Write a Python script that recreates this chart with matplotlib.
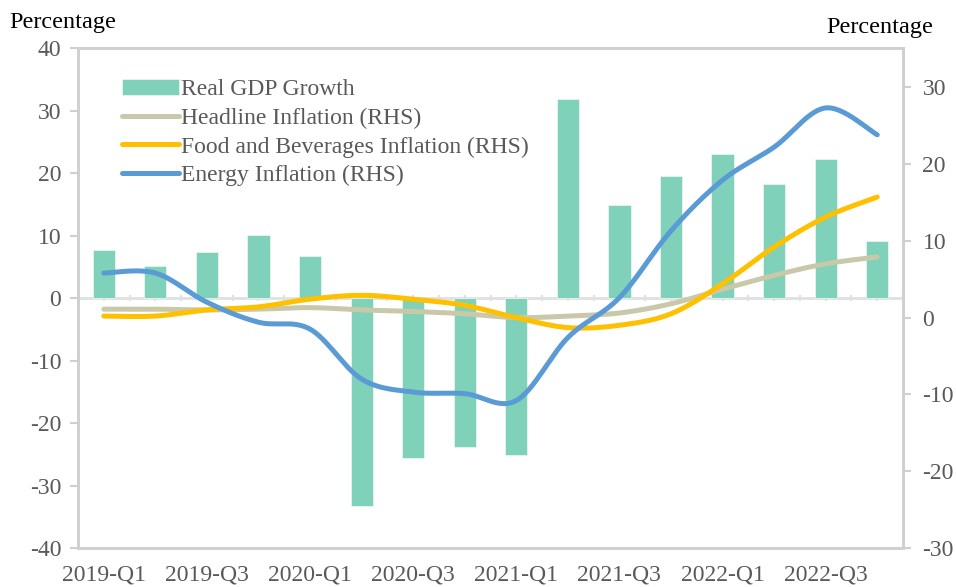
import numpy as np
import matplotlib.pyplot as plt

plt.rcParams['font.family'] = ['Liberation Serif', 'DejaVu Serif']
plt.rcParams['axes.unicode_minus'] = False

quarters = ['2019-Q1', '2019-Q2', '2019-Q3', '2019-Q4',
            '2020-Q1', '2020-Q2', '2020-Q3', '2020-Q4',
            '2021-Q1', '2021-Q2', '2021-Q3', '2021-Q4',
            '2022-Q1', '2022-Q2', '2022-Q3', '2022-Q4']
gdp = [7.7, 5.1, 7.4, 10.1, 6.7, -33.3, -25.6, -23.8,
       -25.1, 31.8, 14.9, 19.5, 23.0, 18.2, 22.2, 9.1]
headline = [1.1, 1.1, 1.0, 1.1, 1.3, 1.0, 0.8, 0.5,
            0.0, 0.2, 0.6, 1.8, 3.7, 5.5, 7.0, 7.9]
food = [0.2, 0.2, 1.0, 1.4, 2.4, 2.9, 2.4, 1.6,
        0.0, -1.3, -1.0, 0.5, 4.4, 9.2, 13.1, 15.7]
energy = [5.8, 5.8, 2.0, -0.6, -1.5, -8.0, -9.7, -9.9,
          -10.8, -2.6, 2.6, 11.3, 17.9, 22.2, 27.3, 23.8]


def smooth(x, y, n=30):
    # Excel-like smoothed line: cubic Bezier with Catmull-Rom control points
    x = np.asarray(x, float)
    y = np.asarray(y, float)
    px = np.concatenate([[x[0]], x, [x[-1]]])
    py = np.concatenate([[y[0]], y, [y[-1]]])
    xs, ys = [], []
    t = np.linspace(0, 1, n)
    for i in range(1, len(px) - 2):
        p0 = np.array([px[i], py[i]])
        p3 = np.array([px[i + 1], py[i + 1]])
        c1 = p0 + (np.array([px[i + 1], py[i + 1]]) - np.array([px[i - 1], py[i - 1]])) / 6
        c2 = p3 - (np.array([px[i + 2], py[i + 2]]) - np.array([px[i], py[i]])) / 6
        b = ((1 - t) ** 3)[:, None] * p0 + (3 * (1 - t) ** 2 * t)[:, None] * c1 \
            + (3 * (1 - t) * t ** 2)[:, None] * c2 + (t ** 3)[:, None] * p3
        xs.extend(b[:, 0])
        ys.extend(b[:, 1])
    return xs, ys


x = np.arange(len(quarters))
grey = '#595959'
spine = '#D0D0D0'

fig = plt.figure(figsize=(9.56, 5.87), dpi=100)
ax = fig.add_axes([0.0816, 0.0664, 0.8630, 0.8518])
ax2 = ax.twinx()

bars = ax.bar(x, gdp, width=0.43, color='#7FD1B9', edgecolor='#E6F6F0', lw=0.6,
              zorder=2, label='Real GDP Growth')
ax.axhline(0, color='#E0E0E0', lw=2, zorder=1)
tick_pos = np.arange(-0.5, 15.6, 0.5)
ax.plot(tick_pos, np.zeros(len(tick_pos)), ls='none', marker='|',
        ms=5, color='#E0E0E0', mew=1.5, zorder=1)

lines = []
for vals, col, name in [(headline, '#C9C9AA', 'Headline Inflation (RHS)'),
                        (food, '#FFC000', 'Food and Beverages Inflation (RHS)'),
                        (energy, '#5B9BD5', 'Energy Inflation (RHS)')]:
    sx, sy = smooth(x, vals)
    l, = ax2.plot(sx, sy, color=col, lw=3.6, solid_capstyle='round', label=name)
    lines.append(l)

ax.set_xlim(-0.5, 15.5)
ax.set_ylim(-40, 40)
ax2.set_ylim(-30, 35.1)
ax.set_yticks(range(-40, 41, 10))
ax2.set_yticks(range(-30, 31, 10))

ax.set_xticks(x[::2])
ax.set_xticklabels(quarters[::2])
ax.tick_params(axis='x', length=0, pad=12, labelsize=17, labelcolor=grey)
ax.tick_params(axis='y', length=6, width=1.5, color=spine, pad=6, labelsize=17, labelcolor=grey)
ax2.tick_params(axis='y', length=6, width=1.5, color=spine, pad=8, labelsize=17, labelcolor=grey)

for a in (ax, ax2):
    for s in a.spines.values():
        s.set_color(spine)
        s.set_linewidth(2)

ax.set_zorder(ax2.get_zorder() - 1)
ax2.patch.set_visible(False)

fig.text(0.010, 0.953, 'Percentage', fontsize=17.5, color='black')
fig.text(0.864, 0.943, 'Percentage', fontsize=17.5, color='black')

leg = ax2.legend([bars] + lines, [bars.get_label()] + [l.get_label() for l in lines],
                 loc='upper left', bbox_to_anchor=(0.042, 0.957), frameon=False,
                 fontsize=17, handlelength=2.4, handletextpad=0.1, labelspacing=0.3,
                 borderaxespad=0, labelcolor=grey)

fig.savefig('out.png', dpi=100)
